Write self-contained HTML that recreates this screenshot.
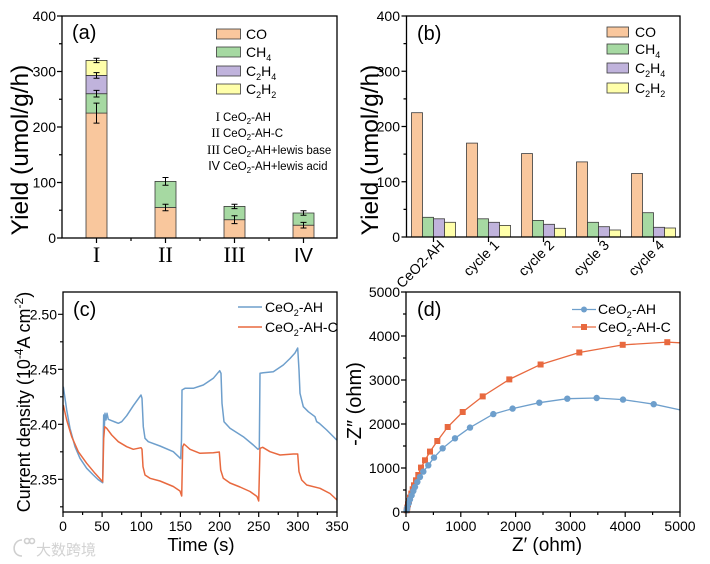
<!DOCTYPE html>
<html><head><meta charset="utf-8"><style>
html,body{margin:0;padding:0;background:#fff;}
svg{display:block;}
text{font-family:"Liberation Sans",Arial,sans-serif;fill:#000;}
.t{font-size:14px;}
.ser{font-family:"Liberation Serif","Times New Roman",serif;}
</style></head><body>
<svg width="710" height="564" viewBox="0 0 710 564" xmlns="http://www.w3.org/2000/svg">
<rect width="710" height="564" fill="#fff"/>

<!-- ================= PANEL A ================= -->
<g stroke="#3a3a3a" stroke-width="0.8">
  <!-- I -->
  <rect x="86" y="113.1" width="21" height="124.9" fill="#F9C79D"/>
  <rect x="86" y="93.7" width="21" height="19.4" fill="#A6D9A2"/>
  <rect x="86" y="75.4" width="21" height="18.3" fill="#C0B3DC"/>
  <rect x="86" y="60.4" width="21" height="15" fill="#FFFFAA"/>
  <!-- II -->
  <rect x="155" y="207.5" width="21" height="30.5" fill="#F9C79D"/>
  <rect x="155" y="181.4" width="21" height="26.1" fill="#A6D9A2"/>
  <!-- III -->
  <rect x="224" y="219.7" width="21" height="18.3" fill="#F9C79D"/>
  <rect x="224" y="206.4" width="21" height="13.3" fill="#A6D9A2"/>
  <!-- IV -->
  <rect x="293" y="225.2" width="21" height="12.8" fill="#F9C79D"/>
  <rect x="293" y="213" width="21" height="12.2" fill="#A6D9A2"/>
</g>
<g stroke="#000" stroke-width="1" fill="none">
  <path d="M96.5 103.1V123.1M93.5 103.1H99.5M93.5 123.1H99.5"/>
  <path d="M96.5 90.4V97M93.5 90.4H99.5M93.5 97H99.5"/>
  <path d="M96.5 72.6V78.2M93.5 72.6H99.5M93.5 78.2H99.5"/>
  <path d="M96.5 58.2V62.6M93.5 58.2H99.5M93.5 62.6H99.5"/>
  <path d="M165.5 204.2V210.8M162.5 204.2H168.5M162.5 210.8H168.5"/>
  <path d="M165.5 177.5V185.3M162.5 177.5H168.5M162.5 185.3H168.5"/>
  <path d="M234.5 215.8V223.6M231.5 215.8H237.5M231.5 223.6H237.5"/>
  <path d="M234.5 204.2V208.6M231.5 204.2H237.5M231.5 208.6H237.5"/>
  <path d="M303.5 222.4V228M300.5 222.4H306.5M300.5 228H306.5"/>
  <path d="M303.5 210.8V215.2M300.5 210.8H306.5M300.5 215.2H306.5"/>
</g>
<rect x="62" y="16" width="275" height="222" fill="none" stroke="#000" stroke-width="1.3"/>
<g stroke="#000" stroke-width="1.2">
  <path d="M57 238H62M57 182.5H62M57 127H62M57 71.5H62M57 16H62"/>
  <path d="M59 210.25H62M59 154.75H62M59 99.25H62M59 43.75H62"/>
  <path d="M96.5 238V243M165.5 238V243M234.5 238V243M303.5 238V243"/>
  <path d="M131 238V241M200 238V241M269 238V241"/>
</g>
<g class="t" text-anchor="end">
  <text x="56" y="243">0</text>
  <text x="56" y="187.5">100</text>
  <text x="56" y="132">200</text>
  <text x="56" y="76.5">300</text>
  <text x="56" y="21">400</text>
</g>
<g text-anchor="middle" font-size="22">
  <text class="ser" x="96.5" y="262">I</text>
  <text class="ser" x="165.5" y="262">II</text>
  <text class="ser" x="234.5" y="262">III</text>
  <text x="303.5" y="262" font-size="20">IV</text>
</g>
<text transform="translate(28,150) rotate(-90)" text-anchor="middle" font-size="24.5">Yield (umol/g/h)</text>
<text x="72" y="39" font-size="20">(a)</text>
<!-- legend a -->
<g stroke="#3a3a3a" stroke-width="0.8">
  <rect x="216.5" y="29" width="24" height="10" fill="#F9C79D"/>
  <rect x="216.5" y="47" width="24" height="10" fill="#A6D9A2"/>
  <rect x="216.5" y="66" width="24" height="10" fill="#C0B3DC"/>
  <rect x="216.5" y="84" width="24" height="10" fill="#FFFFAA"/>
</g>
<g font-size="14">
  <text x="246" y="39">CO</text>
  <text x="246" y="57">CH<tspan font-size="9" dy="4">4</tspan></text>
  <text x="246" y="76">C<tspan font-size="9" dy="4">2</tspan><tspan dy="-4">H</tspan><tspan font-size="9" dy="4">4</tspan></text>
  <text x="246" y="94">C<tspan font-size="9" dy="4">2</tspan><tspan dy="-4">H</tspan><tspan font-size="9" dy="4">2</tspan></text>
</g>
<g font-size="11.5">
  <text class="ser" x="220" y="121" text-anchor="end" font-size="13">I</text>
  <text class="ser" x="220" y="137" text-anchor="end" font-size="13">II</text>
  <text class="ser" x="220" y="154" text-anchor="end" font-size="13">III</text>
  <text x="220" y="170" text-anchor="end" font-size="12.5">IV</text>
  <text x="223" y="121">CeO<tspan font-size="8" dy="3">2</tspan><tspan dy="-3">-AH</tspan></text>
  <text x="223" y="137">CeO<tspan font-size="8" dy="3">2</tspan><tspan dy="-3">-AH-C</tspan></text>
  <text x="223" y="154">CeO<tspan font-size="8" dy="3">2</tspan><tspan dy="-3">-AH+lewis base</tspan></text>
  <text x="223" y="170">CeO<tspan font-size="8" dy="3">2</tspan><tspan dy="-3">-AH+lewis acid</tspan></text>
</g>

<!-- ================= PANEL B ================= -->
<g stroke="#3a3a3a" stroke-width="0.8">
  <rect x="411.5" y="112.7" width="11" height="124.3" fill="#F9C79D"/>
  <rect x="422.5" y="217.3" width="11" height="19.7" fill="#A6D9A2"/>
  <rect x="433.5" y="218.8" width="11" height="18.2" fill="#C0B3DC"/>
  <rect x="444.5" y="222.3" width="11" height="14.7" fill="#FFFFAA"/>

  <rect x="466.5" y="143.1" width="11" height="93.9" fill="#F9C79D"/>
  <rect x="477.5" y="218.8" width="11" height="18.2" fill="#A6D9A2"/>
  <rect x="488.5" y="222.3" width="11" height="14.7" fill="#C0B3DC"/>
  <rect x="499.5" y="225.4" width="11" height="11.6" fill="#FFFFAA"/>

  <rect x="521.5" y="153.6" width="11" height="83.4" fill="#F9C79D"/>
  <rect x="532.5" y="220.4" width="11" height="16.6" fill="#A6D9A2"/>
  <rect x="543.5" y="224.3" width="11" height="12.7" fill="#C0B3DC"/>
  <rect x="554.5" y="228.3" width="11" height="8.7" fill="#FFFFAA"/>

  <rect x="576.5" y="161.9" width="11" height="75.1" fill="#F9C79D"/>
  <rect x="587.5" y="222.3" width="11" height="14.7" fill="#A6D9A2"/>
  <rect x="598.5" y="226.7" width="11" height="10.3" fill="#C0B3DC"/>
  <rect x="609.5" y="230" width="11" height="7" fill="#FFFFAA"/>

  <rect x="631.5" y="173.5" width="11" height="63.5" fill="#F9C79D"/>
  <rect x="642.5" y="212.7" width="11" height="24.3" fill="#A6D9A2"/>
  <rect x="653.5" y="227.3" width="11" height="9.7" fill="#C0B3DC"/>
  <rect x="664.5" y="228" width="11" height="9" fill="#FFFFAA"/>
</g>
<rect x="406.5" y="16" width="273.5" height="221" fill="none" stroke="#000" stroke-width="1.3"/>
<g stroke="#000" stroke-width="1.2">
  <path d="M401.5 237H406.5M401.5 181.75H406.5M401.5 126.5H406.5M401.5 71.25H406.5M401.5 16H406.5"/>
  <path d="M403.5 209.4H406.5M403.5 154.1H406.5M403.5 98.9H406.5M403.5 43.6H406.5"/>
  <path d="M433.5 237V242M488.5 237V242M543.5 237V242M598.5 237V242M653.5 237V242"/>
</g>
<g class="t" text-anchor="end">
  <text x="400" y="242">0</text>
  <text x="400" y="186.75">100</text>
  <text x="400" y="131.5">200</text>
  <text x="400" y="76.25">300</text>
  <text x="400" y="21">400</text>
</g>
<g class="t" text-anchor="end">
  <text transform="translate(445,246) rotate(-45)">CeO2-AH</text>
  <text transform="translate(500,246) rotate(-45)">cycle 1</text>
  <text transform="translate(555,246) rotate(-45)">cycle 2</text>
  <text transform="translate(610,246) rotate(-45)">cycle 3</text>
  <text transform="translate(665,246) rotate(-45)">cycle 4</text>
</g>
<text transform="translate(378,150) rotate(-90)" text-anchor="middle" font-size="24.5">Yield (umol/g/h)</text>
<text x="417" y="40" font-size="20">(b)</text>
<g stroke="#3a3a3a" stroke-width="0.8">
  <rect x="607" y="27" width="21.5" height="10" fill="#F9C79D"/>
  <rect x="607" y="44" width="21.5" height="10" fill="#A6D9A2"/>
  <rect x="607" y="63" width="21.5" height="10" fill="#C0B3DC"/>
  <rect x="607" y="83" width="21.5" height="10" fill="#FFFFAA"/>
</g>
<g font-size="14">
  <text x="635" y="37">CO</text>
  <text x="635" y="54">CH<tspan font-size="9" dy="4">4</tspan></text>
  <text x="635" y="73">C<tspan font-size="9" dy="4">2</tspan><tspan dy="-4">H</tspan><tspan font-size="9" dy="4">4</tspan></text>
  <text x="635" y="93">C<tspan font-size="9" dy="4">2</tspan><tspan dy="-4">H</tspan><tspan font-size="9" dy="4">2</tspan></text>
</g>

<!-- ================= PANEL C ================= -->
<polyline fill="none" stroke="#6E9FCC" stroke-width="1.5" stroke-linejoin="round" points="63.3,386.7 66.7,410 70,428.3 75,446.7 80,458.3 86.7,468.3 93.3,475 98,479.5 102.7,482.7 103.4,430 103.7,415 104.3,426.7 105,413.3 106,420 107,413.3 108.3,419.3 111.7,420.7 115,422 118.3,423.3 121.7,421.7 126.7,415.7 133.3,405.7 141,395 142,398.3 143.3,426.7 145,438.3 148.3,441.7 160,446 173.3,451.7 180.7,458.7 181.5,440 182,390 185,388.3 193.3,388.3 203.3,385 213.3,378.3 219.7,370.7 221,373.3 222,403.3 224,421.7 230,428.3 243.3,436.7 253.3,445 258,449.3 259.3,448.3 260,373.3 263.3,372.7 273.3,371.7 283.3,365 290,358.5 295,353 297.7,348 299,370 300,393.3 303.3,406.7 308.3,411.7 315,416.7 316.7,421.7 319.3,423.3 326.7,430 336.7,440"/>
<polyline fill="none" stroke="#E8693F" stroke-width="1.5" stroke-linejoin="round" points="63.3,405 66.7,420 71.7,436.7 78.3,451.7 86.7,463.3 95,473.3 102.7,481.7 103.7,438.3 104.7,426.7 106.7,428.3 111.7,435 118.3,441.7 126.7,446.7 133.3,449.3 141,447.7 142,449.3 143,466.7 145,475 150,478.3 160,481 173.3,486.5 180,491 181.7,496 182.7,446.7 184,444 190,449.3 200,453.3 213.3,452.7 219.3,452 220.7,470 223.3,478.3 230,483 240,487 250,491.5 257,496.5 258.7,501 260,448.3 262.7,447.3 270,451.7 280,455 293.3,454 297.7,454 299,471.7 301.7,480 306.7,485 320,488.3 330,493.5 337,500"/>
<rect x="63" y="292" width="274" height="220" fill="none" stroke="#000" stroke-width="1.3"/>
<g stroke="#000" stroke-width="1.2">
  <path d="M58 479.3H63M58 424.3H63M58 369.3H63M58 314.3H63"/>
  <path d="M60 506.8H63M60 451.8H63M60 396.8H63M60 341.8H63"/>
  <path d="M63 512V517M102.1 512V517M141.3 512V517M180.4 512V517M219.6 512V517M258.7 512V517M297.9 512V517M337 512V517"/>
  <path d="M82.6 512V515M121.7 512V515M160.9 512V515M200 512V515M239.1 512V515M278.3 512V515M317.4 512V515"/>
</g>
<g class="t" text-anchor="end">
  <text x="57" y="484.3">2.35</text>
  <text x="57" y="429.3">2.40</text>
  <text x="57" y="374.3">2.45</text>
  <text x="57" y="319.3">2.50</text>
</g>
<g class="t" text-anchor="middle">
  <text x="63" y="531">0</text>
  <text x="102.1" y="531">50</text>
  <text x="141.3" y="531">100</text>
  <text x="180.4" y="531">150</text>
  <text x="219.6" y="531">200</text>
  <text x="258.7" y="531">250</text>
  <text x="297.9" y="531">300</text>
  <text x="337" y="531">350</text>
</g>
<text x="201" y="551" text-anchor="middle" font-size="18.5">Time (s)</text>
<text transform="translate(30,402) rotate(-90)" text-anchor="middle" font-size="18">Current density (10<tspan font-size="12" dy="-7">-4</tspan><tspan dy="7">A cm</tspan><tspan font-size="12" dy="-7">-2</tspan><tspan dy="7">)</tspan></text>
<text x="73" y="316" font-size="20">(c)</text>
<line x1="238" y1="307" x2="262" y2="307" stroke="#6E9FCC" stroke-width="1.5"/>
<line x1="238" y1="327" x2="262" y2="327" stroke="#E8693F" stroke-width="1.5"/>
<g font-size="14">
  <text x="265" y="312">CeO<tspan font-size="9" dy="4">2</tspan><tspan dy="-4">-AH</tspan></text>
  <text x="265" y="332">CeO<tspan font-size="9" dy="4">2</tspan><tspan dy="-4">-AH-C</tspan></text>
</g>

<!-- ================= PANEL D ================= -->
<polyline fill="none" stroke="#E8693F" stroke-width="1.3" points="406,512 406.66,510.28 407.32,507.6 408.03,504.3 409.01,500.96 410,497.57 411.32,493.61 412.69,489.3 414,485.34 415.97,480.32 418.33,475 421.02,467.65 425.02,460.3 430,451.63 437.35,440.98 447.7,427 462.66,412 482.67,396.37 509.35,379.38 540.64,364.47 579.33,352.5 622.68,344.84 667.34,342.16 680,342.82"/>
<g fill="#E8693F">
  <rect x="403.7" y="507.3" width="6" height="6"/>
  <rect x="404.3" y="504.6" width="6" height="6"/>
  <rect x="405" y="501.3" width="6" height="6"/>
  <rect x="406" y="498" width="6" height="6"/>
  <rect x="407" y="494.6" width="6" height="6"/>
  <rect x="408.3" y="490.6" width="6" height="6"/>
  <rect x="409.7" y="486.3" width="6" height="6"/>
  <rect x="411" y="482.3" width="6" height="6"/>
  <rect x="413" y="477.3" width="6" height="6"/>
  <rect x="415.3" y="472" width="6" height="6"/>
  <rect x="418" y="464.6" width="6" height="6"/>
  <rect x="422" y="457.3" width="6" height="6"/>
  <rect x="427" y="448.6" width="6" height="6"/>
  <rect x="434.3" y="438" width="6" height="6"/>
  <rect x="444.7" y="424" width="6" height="6"/>
  <rect x="459.7" y="409" width="6" height="6"/>
  <rect x="479.7" y="393.4" width="6" height="6"/>
  <rect x="506.3" y="376.4" width="6" height="6"/>
  <rect x="537.6" y="361.5" width="6" height="6"/>
  <rect x="576.3" y="349.5" width="6" height="6"/>
  <rect x="619.7" y="341.8" width="6" height="6"/>
  <rect x="664.3" y="339.2" width="6" height="6"/>
</g>
<polyline fill="none" stroke="#6E9FCC" stroke-width="1.3" points="406,512 406.66,510.28 407.32,507.6 408.69,503.33 410,499.33 411.64,495.32 413.34,491 414.99,487 417.34,482 419.97,477 423.32,471.6 428.3,465.3 434,457.6 442.66,448.3 455,438.3 470,427.6 493.3,414.1 512.6,408.6 539.3,402.7 567.3,398.7 596.65,398 623,399.6 653.7,404.2 680,409.9"/>
<g fill="#6E9FCC">
  <circle cx="406.66" cy="510.28" r="3.2"/>
  <circle cx="407.32" cy="507.6" r="3.2"/>
  <circle cx="408.69" cy="503.33" r="3.2"/>
  <circle cx="410" cy="499.33" r="3.2"/>
  <circle cx="411.64" cy="495.32" r="3.2"/>
  <circle cx="413.34" cy="491" r="3.2"/>
  <circle cx="414.99" cy="487" r="3.2"/>
  <circle cx="417.34" cy="482" r="3.2"/>
  <circle cx="419.97" cy="477" r="3.2"/>
  <circle cx="423.32" cy="471.6" r="3.2"/>
  <circle cx="428.3" cy="465.3" r="3.2"/>
  <circle cx="434" cy="457.6" r="3.2"/>
  <circle cx="442.66" cy="448.3" r="3.2"/>
  <circle cx="455" cy="438.3" r="3.2"/>
  <circle cx="470" cy="427.6" r="3.2"/>
  <circle cx="493.3" cy="414.1" r="3.2"/>
  <circle cx="512.6" cy="408.6" r="3.2"/>
  <circle cx="539.3" cy="402.7" r="3.2"/>
  <circle cx="567.3" cy="398.7" r="3.2"/>
  <circle cx="596.65" cy="398" r="3.2"/>
  <circle cx="623" cy="399.6" r="3.2"/>
  <circle cx="653.7" cy="404.2" r="3.2"/>
</g>
<rect x="406" y="292" width="274" height="220" fill="none" stroke="#000" stroke-width="1.3"/>
<g stroke="#000" stroke-width="1.2">
  <path d="M401 512H406M401 468H406M401 424H406M401 380H406M401 336H406M401 292H406"/>
  <path d="M403 490H406M403 446H406M403 402H406M403 358H406M403 314H406"/>
  <path d="M406 512V517M460.8 512V517M515.6 512V517M570.4 512V517M625.2 512V517M680 512V517"/>
  <path d="M433.4 512V515M488.2 512V515M543 512V515M597.8 512V515M652.6 512V515"/>
</g>
<g class="t" text-anchor="end">
  <text x="400" y="517">0</text>
  <text x="400" y="473">1000</text>
  <text x="400" y="429">2000</text>
  <text x="400" y="385">3000</text>
  <text x="400" y="341">4000</text>
  <text x="400" y="297">5000</text>
</g>
<g class="t" text-anchor="middle">
  <text x="406" y="531">0</text>
  <text x="460.8" y="531">1000</text>
  <text x="515.6" y="531">2000</text>
  <text x="570.4" y="531">3000</text>
  <text x="625.2" y="531">4000</text>
  <text x="680" y="531">5000</text>
</g>
<text x="547" y="551" text-anchor="middle" font-size="19">Z′ (ohm)</text>
<text transform="translate(361,404) rotate(-90)" text-anchor="middle" font-size="20">-Z″ (ohm)</text>
<text x="417" y="316" font-size="20">(d)</text>
<line x1="572" y1="309.5" x2="596" y2="309.5" stroke="#6E9FCC" stroke-width="1.3"/>
<circle cx="584" cy="309.5" r="3" fill="#6E9FCC"/>
<line x1="572" y1="327" x2="596" y2="327" stroke="#E8693F" stroke-width="1.3"/>
<rect x="581" y="324" width="6" height="6" fill="#E8693F"/>
<g font-size="14">
  <text x="598" y="314">CeO<tspan font-size="9" dy="4">2</tspan><tspan dy="-4">-AH</tspan></text>
  <text x="598" y="332">CeO<tspan font-size="9" dy="4">2</tspan><tspan dy="-4">-AH-C</tspan></text>
</g>

<!-- watermark -->
<g fill="none" stroke="#cfcfcf" stroke-width="1.6">
  <path d="M22 540 C12 540 11 556 22 556"/>
  <circle cx="27" cy="541" r="2.5"/>
  <circle cx="32" cy="541" r="2.5"/>
</g>
<text x="36" y="555" font-size="15" fill="#d2d2d2" style="font-family:'Liberation Sans','Noto Sans CJK SC',sans-serif;fill:#d2d2d2">大数跨境</text>
</svg>
</body></html>
